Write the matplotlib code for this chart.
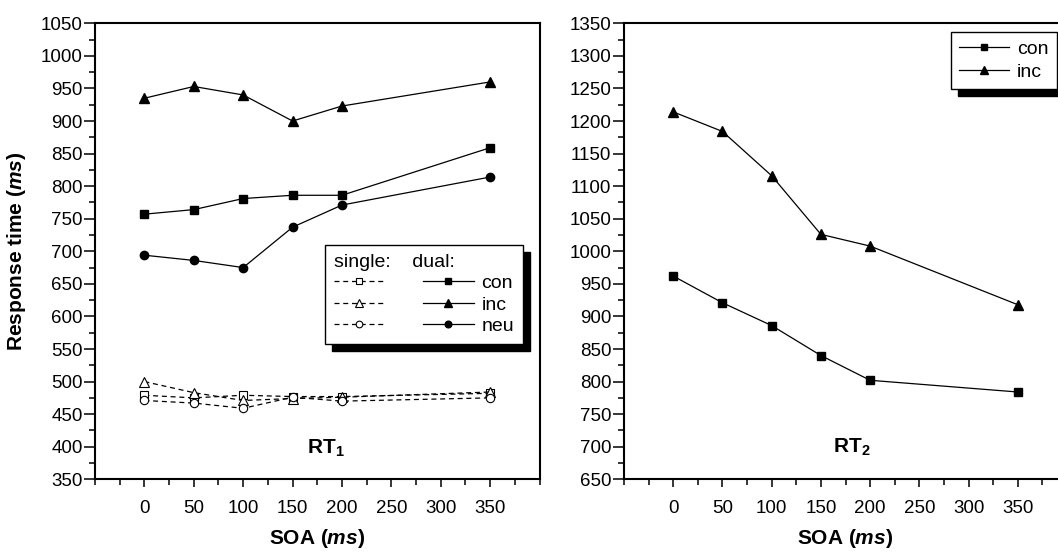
import matplotlib
matplotlib.use("Agg")
import matplotlib.pyplot as plt
from matplotlib.ticker import MultipleLocator

plt.rcParams['font.family'] = ['Liberation Sans', 'DejaVu Sans']
plt.rcParams['mathtext.fontset'] = 'custom'
plt.rcParams['mathtext.rm'] = 'Liberation Sans:bold'
plt.rcParams['mathtext.it'] = 'Liberation Sans:italic:bold'
plt.rcParams['mathtext.bf'] = 'Liberation Sans:bold'

# data
soa = [0, 50, 100, 150, 200, 350]

rt1_dual_con = [757, 764, 781, 786, 786, 859]
rt1_dual_inc = [935, 953, 940, 900, 923, 960]
rt1_dual_neu = [694, 686, 675, 737, 771, 814]

rt1_single_con = [479, 475, 479, 477, 477, 482]
rt1_single_inc = [500, 483, 471, 474, 476, 484]
rt1_single_neu = [471, 467, 459, 476, 470, 475]

rt2_con = [962, 921, 886, 840, 802, 784]
rt2_inc = [1214, 1184, 1116, 1026, 1008, 918]

x_ticks = [0, 50, 100, 150, 200, 250, 300, 350]

W, H = 1058, 552
fig = plt.figure(figsize=(W / 100, H / 100), dpi=100)
ax1 = fig.add_axes([95 / W, 1 - 479.3 / H, 444.5 / W, 456 / H])
ax2 = fig.add_axes([624 / W, 1 - 479.3 / H, 443 / W, 456 / H])

lw = 0.9
dash = (4, 3)


def style_axes(ax, ylo, yhi):
    ax.set_xlim(-50, 400)
    ax.set_ylim(ylo, yhi)
    ax.set_xticks(x_ticks)
    ax.xaxis.set_minor_locator(MultipleLocator(25))
    ax.set_yticks(range(ylo, yhi + 1, 50))
    ax.yaxis.set_minor_locator(MultipleLocator(25))
    ax.tick_params(axis='both', which='both', direction='out', top=False, right=False,
                   labelsize=13.5, width=1.1, color='k')
    ax.tick_params(axis='y', which='major', length=8, pad=1)
    ax.tick_params(axis='y', which='minor', length=4)
    ax.tick_params(axis='x', which='major', length=6, pad=9)
    ax.tick_params(axis='x', which='minor', length=4)
    for s in ax.spines.values():
        s.set_linewidth(1.5)
    ax.set_xlabel('SOA ($\\mathit{ms}$)', fontsize=15, fontweight='bold', labelpad=7)


# left panel: RT1
style_axes(ax1, 350, 1050)
s_con, = ax1.plot(soa, rt1_single_con, ls='--', dashes=dash, color='k', lw=lw,
                  marker='s', ms=5.5, mfc='white', mec='k', mew=0.8)
s_inc, = ax1.plot(soa, rt1_single_inc, ls='--', dashes=dash, color='k', lw=lw,
                  marker='^', ms=7, mfc='white', mec='k', mew=0.8)
s_neu, = ax1.plot(soa, rt1_single_neu, ls='--', dashes=dash, color='k', lw=lw,
                  marker='o', ms=6, mfc='white', mec='k', mew=0.8)
d_con, = ax1.plot(soa, rt1_dual_con, color='k', lw=lw, marker='s', ms=5.5)
d_inc, = ax1.plot(soa, rt1_dual_inc, color='k', lw=lw, marker='^', ms=7.5)
d_neu, = ax1.plot(soa, rt1_dual_neu, color='k', lw=lw, marker='o', ms=6)

ax1.set_ylabel('Response time ($\\mathit{ms}$)', fontsize=15, fontweight='bold', labelpad=9)
ax1.text(165, 390, 'RT$_\\mathrm{1}$', fontsize=15, fontweight='bold', ha='left', va='baseline')

shadow = {'ox': 5, 'oy': -5, 'facecolor': 'k', 'edgecolor': 'k', 'alpha': 1}
leg1 = ax1.legend([s_con, s_inc, s_neu, d_con, d_inc, d_neu],
                  ['', '', '', 'con', 'inc', 'neu'],
                  ncol=2, title='single:    dual:', title_fontsize=14, fontsize=14,
                  alignment='left', loc='upper left', markerscale=0.8,
                  bbox_to_anchor=(325 / W, 1 - 245 / H), bbox_transform=fig.transFigure,
                  borderaxespad=0, handlelength=2.6, handletextpad=0.4,
                  columnspacing=1.6, labelspacing=0.2, borderpad=0.45,
                  fancybox=False, framealpha=1, edgecolor='k', shadow=shadow)
leg1.get_frame().set_linewidth(1.0)

# right panel: RT2
style_axes(ax2, 650, 1350)
r_con, = ax2.plot(soa, rt2_con, color='k', lw=lw, marker='s', ms=5.5)
r_inc, = ax2.plot(soa, rt2_inc, color='k', lw=lw, marker='^', ms=7.5)
ax2.text(162, 690.7, 'RT$_\\mathrm{2}$', fontsize=15, fontweight='bold', ha='left', va='baseline')

leg2 = ax2.legend([r_con, r_inc], ['con', 'inc'], fontsize=14, loc='upper right',
                  markerscale=0.8,
                  bbox_to_anchor=(1056.5 / W, 1 - 32.3 / H), bbox_transform=fig.transFigure,
                  borderaxespad=0, handlelength=2.6, handletextpad=0.4,
                  labelspacing=0.3, borderpad=0.4,
                  fancybox=False, framealpha=1, edgecolor='k', shadow=shadow)
leg2.get_frame().set_linewidth(1.0)

fig.savefig('out.png', dpi=100, facecolor='white')
